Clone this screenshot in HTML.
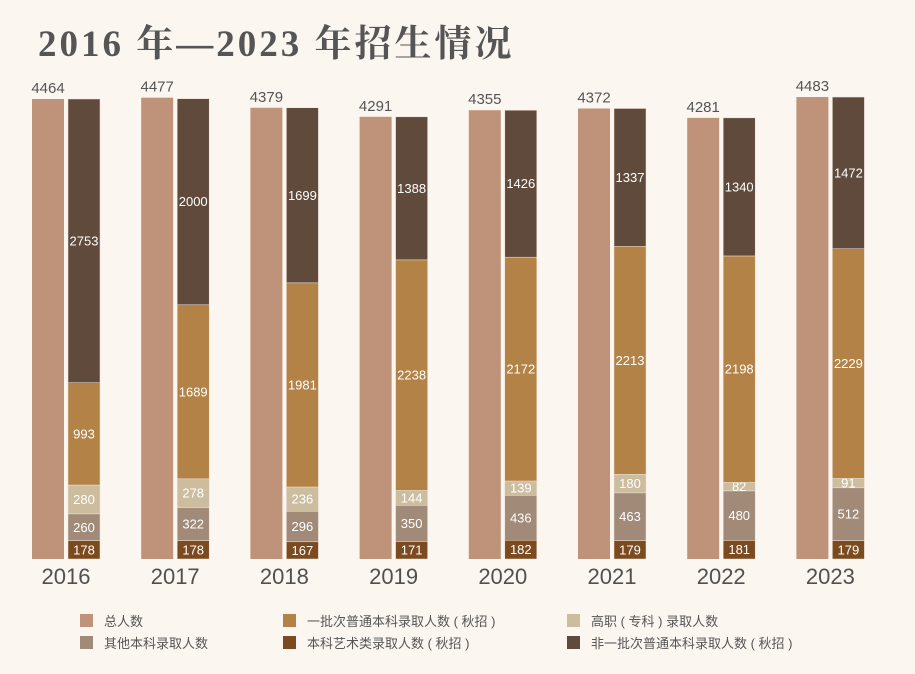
<!DOCTYPE html>
<html><head><meta charset="utf-8">
<style>
html,body{margin:0;padding:0;background:#fcf6f1;}
body{width:915px;height:674px;overflow:hidden;position:relative;font-family:"Liberation Sans","Noto Sans CJK SC",sans-serif;}
#title{position:absolute;left:38px;top:13px;font-family:"Liberation Serif","Noto Serif CJK SC",serif;font-weight:bold;font-size:37px;color:#555;letter-spacing:3px;margin:0;white-space:nowrap;}
.leg{position:absolute;font-size:13px;color:#555;display:flex;align-items:center;}
.leg span.sw{width:13px;height:13px;margin-right:11px;display:inline-block;}
</style></head><body>
<h1 id="title">2016 年—2023 年招生情况</h1>
<svg id="chart" width="915" height="600" style="position:absolute;left:0;top:0"></svg>
<div class="leg" style="left:80px;top:611px"><span class="sw" style="background:#be937a"></span>总人数</div>
<div class="leg" style="left:80px;top:633px"><span class="sw" style="background:#a18a78"></span>其他本科录取人数</div>
<div class="leg" style="left:283px;top:611px"><span class="sw" style="background:#b38246"></span>一批次普通本科录取人数 ( 秋招 )</div>
<div class="leg" style="left:283px;top:633px"><span class="sw" style="background:#7b4a1f"></span>本科艺术类录取人数 ( 秋招 )</div>
<div class="leg" style="left:567px;top:611px"><span class="sw" style="background:#cbbd9e"></span>高职 ( 专科 ) 录取人数</div>
<div class="leg" style="left:567px;top:633px"><span class="sw" style="background:#5f4a3c"></span>非一批次普通本科录取人数 ( 秋招 )</div>
<script>
const years = ["2016","2017","2018","2019","2020","2021","2022","2023"];
const totals = [4464,4477,4379,4291,4355,4372,4281,4483];
const art = [178,178,167,171,182,179,181,179];
const otherUg = [260,322,296,350,436,463,480,512];
const vocational = [280,278,236,144,139,180,82,91];
const firstBatch = [993,1689,1981,2238,2172,2213,2198,2229];
const nonFirst = [2753,2000,1699,1388,1426,1337,1340,1472];

const svg = document.getElementById('chart');
const NS = 'http://www.w3.org/2000/svg';
const baseY = 559, scale = 460/4464;
const xPos = i => 32 + i*109.2;
const yLen = v => v*scale;
function mk(tag, attrs){const e=document.createElementNS(NS,tag);for(const k in attrs)e.setAttribute(k,attrs[k]);svg.appendChild(e);return e;}
const series = [
  {vals:art,color:"#7b4a1f",name:"art"},
  {vals:otherUg,color:"#a18a78",name:"other"},
  {vals:vocational,color:"#cbbd9e",name:"vocational"},
  {vals:firstBatch,color:"#b38246",name:"first-batch"},
  {vals:nonFirst,color:"#5f4a3c",name:"non-first"}
];
years.forEach((yr,i)=>{
  const x = xPos(i);
  const h = yLen(totals[i]);
  const r = mk('rect',{x:x,y:baseY-h,width:32,height:h,fill:"#be937a"});
  
  
  const t = mk('text',{x:x+16,y:baseY-h-6,'text-anchor':'middle','font-size':15,fill:'#555'});
  t.textContent = totals[i];
  
  
  let y = baseY;
  const sx = x+36;
  series.forEach(s=>{
    const sh = yLen(s.vals[i]);
    const sr = mk('rect',{x:sx,y:y-sh,width:32,height:sh,fill:s.color,stroke:"#efe2d6","stroke-width":0.5});
    
    
    const st = mk('text',{x:sx+16,y:y-sh/2+4.5,'text-anchor':'middle','font-size':13,fill:'#fff'});
    st.textContent = s.vals[i];
    
    
    y -= sh;
  });
  const yl = mk('text',{x:x+34,y:584,'text-anchor':'middle','font-size':22,fill:'#505050'});
  yl.textContent = yr;
  
  
});
</script>
</body></html>
